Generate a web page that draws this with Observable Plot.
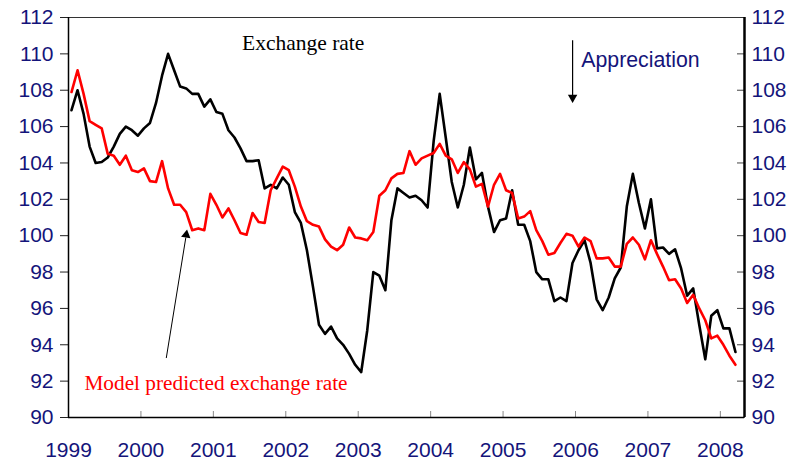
<!DOCTYPE html>
<html><head><meta charset="utf-8">
<script src="https://cdn.jsdelivr.net/npm/d3@7"></script>
<script src="https://cdn.jsdelivr.net/npm/@observablehq/plot@0.6"></script>
<style>body{margin:0;background:#fff}</style>
</head><body><div id="chart"></div>
<script>
// Monthly data, January 1999 – March 2008
const startYear = 1999;
const exchangeRate = [
  106.9,108.0,106.7,104.9,104.0,104.05,104.3,104.9,105.6,106.0,105.8,105.5,
  105.9,106.2,107.3,108.8,110.0,109.1,108.2,108.1,107.8,107.8,107.1,107.5,
  106.8,106.7,105.8,105.4,104.8,104.1,104.1,104.15,102.6,102.8,102.6,103.2,
  102.8,101.3,100.7,99.2,97.2,95.1,94.6,95.0,94.35,94.0,93.5,92.9,
  92.5,94.8,98.0,97.8,97.0,100.85,102.6,102.35,102.1,102.2,101.95,101.55,
  105.2,107.8,105.4,102.95,101.55,102.8,104.85,103.1,103.45,101.6,100.2,100.85,
  100.95,102.5,100.6,100.6,99.7,98.0,97.6,97.6,96.4,96.6,96.4,98.5,
  99.2,99.75,98.5,96.5,95.9,96.6,97.65,98.25,101.6,103.4,101.8,100.4,
  102.0,99.3,99.35,99.0,99.25,98.2,96.7,97.1,95.1,93.2,95.6,95.9,
  94.9,94.9,93.6
];
const modelRate = [
  107.9,109.1,107.8,106.3,106.1,105.9,104.5,104.4,103.9,104.4,103.6,103.5,
  103.7,103.0,102.95,104.1,102.6,101.7,101.7,101.3,100.3,100.4,100.3,102.3,
  101.7,101.0,101.5,100.85,100.15,100.05,101.25,100.75,100.7,102.5,103.15,103.8,
  103.6,102.7,101.6,100.8,100.6,100.5,99.8,99.4,99.2,99.5,100.45,99.9,
  99.85,99.75,100.2,102.2,102.5,103.15,103.4,103.45,104.65,103.9,104.25,104.4,
  104.55,105.05,104.4,104.2,103.45,104.05,103.65,102.7,102.85,101.6,102.8,103.4,
  102.5,102.35,100.95,101.05,101.35,100.3,99.7,98.95,99.05,99.6,100.1,100.0,
  99.4,99.9,99.7,98.75,98.75,98.8,98.3,98.3,99.55,99.9,99.5,98.7,
  99.75,99.0,98.3,97.55,97.6,97.1,96.3,96.75,96.0,95.35,94.35,94.5,
  94.0,93.4,92.9
];
const yearTicks = [1999,2000,2001,2002,2003,2004,2005,2006,2007,2008];
const yTicks = [90,92,94,96,98,100,102,104,106,108,110,112];
const labelExchange = "Exchange rate";
const labelModel = "Model predicted exchange rate";
const labelAppreciation = "Appreciation";

const rows = exchangeRate.map((v, i) => ({t: startYear + (i + 0.5) / 12, actual: v, model: modelRate[i]}));

const navy = "#14147a";
const xEnd = 2008 + 4 / 12;
const sans = "'Liberation Sans', Arial, sans-serif";
const serif = "'Liberation Serif', 'Times New Roman', serif";

const chart = Plot.plot({
  width: 804, height: 466,
  marginLeft: 68, marginRight: 60, marginTop: 17, marginBottom: 49,
  style: {fontFamily: sans, background: "white", overflow: "visible"},
  x: {domain: [startYear, xEnd]},
  y: {domain: [90, 112]},
  marks: [
    // left axis
    Plot.axisY({anchor: "left", ticks: yTicks, tickSize: 8, tickPadding: 7, label: null,
      stroke: "#222", fill: navy, fontSize: 21, fontFamily: sans}),
    // right axis: inward ticks + labels
    Plot.axisY({anchor: "right", ticks: yTicks, tickSize: 8, dx: -8, fill: "none", stroke: "#444", label: null}),
    Plot.axisY({anchor: "right", ticks: yTicks, tickSize: 0, tickPadding: 7, fill: navy, label: null,
      fontSize: 21, fontFamily: sans}),
    // bottom axis: inward ticks + labels
    Plot.axisX({ticks: yearTicks.slice(1), tickSize: 6, dy: -6, fill: "none", stroke: "#888", label: null}),
    Plot.axisX({ticks: yearTicks, tickSize: 0, tickPadding: 25, tickFormat: d => String(d), fill: navy,
      label: null, fontSize: 21, fontFamily: sans}),
    // frame
    Plot.ruleY([112], {stroke: "#333", strokeWidth: 1}),
    Plot.ruleX([startYear], {stroke: "black", strokeWidth: 1.5}),
    Plot.ruleX([xEnd], {stroke: "black", strokeWidth: 2.5}),
    Plot.ruleY([90], {stroke: "black", strokeWidth: 1.5}),
    // series
    Plot.line(rows, {x: "t", y: "actual", stroke: "black", strokeWidth: 2.6}),
    Plot.line(rows, {x: "t", y: "model", stroke: "#ff0000", strokeWidth: 2.6}),
    // annotations
    Plot.text([labelExchange], {x: 2002.24, y: 110.6, text: d => d, fontFamily: serif, fontSize: 21.5, fill: "black"}),
    Plot.text([labelAppreciation], {x: 2006.08, y: 109.65, text: d => d, textAnchor: "start", fontFamily: sans, fontSize: 21.3, fill: navy}),
    Plot.text([labelModel], {x: 1999.22, y: 91.9, text: d => d, textAnchor: "start", fontFamily: serif, fontSize: 21.3, fill: "#ff0000"}),
    Plot.link([0], {x1: 2005.96, x2: 2005.96, y1: 110.75, y2: 107.7, stroke: "black", strokeWidth: 1.2}),
    Plot.dot([0], {x: 2005.96, y: 107.6, symbol: "triangle", r: 3.5, fill: "black", stroke: "none", rotate: 180}),
    Plot.link([0], {x1: 2000.35, y1: 93.27, x2: 2000.62, y2: 99.9, stroke: "black", strokeWidth: 1}),
    Plot.dot([0], {x: 2000.625, y: 100.05, symbol: "triangle", r: 3.5, fill: "black", stroke: "none", rotate: 9.3})
  ]
});
document.getElementById("chart").appendChild(chart);
</script>
</body></html>
